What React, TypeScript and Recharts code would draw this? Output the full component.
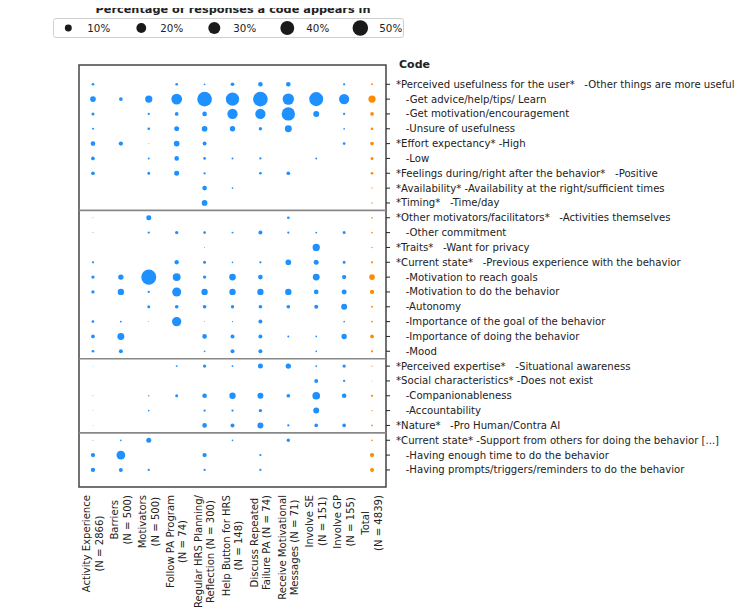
import React from 'react';
import { ScatterChart, Scatter, XAxis, YAxis, ZAxis, ReferenceLine, ReferenceArea } from 'recharts';

const FONT = '"DejaVu Sans", sans-serif';
const BLUE = '#1E90FF';
const ORANGE = '#FF8C00';

// columns (interventions), last one is the total
const columns = [
  'Activity Experience\n(N = 2866)',
  'Barriers\n(N = 500)',
  'Motivators\n(N = 500)',
  'Follow PA Program\n(N = 74)',
  'Regular HRS Planning/\nReflection (N = 300)',
  'Help Button for HRS\n(N = 148)',
  'Discuss Repeated\nFailure PA (N = 74)',
  'Receive Motivational\nMessages (N = 71)',
  'Involve SE\n(N = 151)',
  'Involve GP\n(N = 155)',
  'Total\n(N = 4839)',
];

const codes = [
  '*Perceived usefulness for the user*   -Other things are more useful',
  '   -Get advice/help/tips/ Learn',
  '   -Get motivation/encouragement',
  '   -Unsure of usefulness',
  '*Effort expectancy* -High',
  '   -Low',
  '*Feelings during/right after the behavior*   -Positive',
  '*Availability* -Availability at the right/sufficient times',
  '*Timing*   -Time/day',
  '*Other motivators/facilitators*   -Activities themselves',
  '   -Other commitment',
  '*Traits*   -Want for privacy',
  '*Current state*   -Previous experience with the behavior',
  '   -Motivation to reach goals',
  '   -Motivation to do the behavior',
  '   -Autonomy',
  '   -Importance of the goal of the behavior',
  '   -Importance of doing the behavior',
  '   -Mood',
  '*Perceived expertise*   -Situational awareness',
  '*Social characteristics* -Does not exist',
  '   -Companionableness',
  '   -Accountability',
  '*Nature*   -Pro Human/Contra AI',
  '*Current state* -Support from others for doing the behavior [...]',
  '   -Having enough time to do the behavior',
  '   -Having prompts/triggers/reminders to do the behavior',
];

const groups = ['Behavior', 'User', 'Other Party', 'Environment'];
const groupStart = [0, 9, 19, 24];
const groupEnd = [8, 18, 23, 26];

// % of responses per code (rows) and column
const share = [
  [1.5, 0, 0, 1.5, 0.6, 2.8, 4.5, 4.5, 0, 1.1, 0.8],
  [6.7, 2.8, 11, 24, 45, 37, 45, 27, 41, 22, 11],
  [1.9, 0, 1.1, 2.8, 4.5, 22, 22, 37, 7.5, 1.1, 2.8],
  [0.8, 0, 1.5, 5.2, 6.7, 6, 2.3, 10, 0, 0.6, 1.5],
  [4.5, 3.9, 0.2, 6.7, 3.3, 0, 0, 0, 0, 1.5, 2.8],
  [2.8, 0, 0.8, 4.5, 1.5, 0.8, 1.1, 0, 0.8, 0, 1.9],
  [2.8, 0, 1.9, 5.2, 1.1, 0, 1.5, 2.8, 0, 0, 1.5],
  [0, 0, 0, 0, 4.5, 0.6, 0, 0, 0, 0, 0.4],
  [0, 0, 0, 0, 6.7, 0, 0, 0, 0, 0, 0.4],
  [0.2, 0, 5.2, 0, 0, 0, 0, 1.5, 0, 0, 0.6],
  [0.2, 0, 1.1, 2.3, 1.5, 0.8, 3.3, 1.1, 0.8, 1.9, 0.6],
  [0, 0, 0, 0, 0.2, 0, 0, 0, 11, 0, 0.4],
  [1.1, 0, 0, 3.9, 1.9, 0.6, 1.1, 6.7, 5.2, 1.9, 1.1],
  [2.3, 6, 47, 13, 2.3, 9.3, 4.5, 0, 10, 3.9, 6.7],
  [2.3, 8.4, 1.1, 17, 8.4, 8.4, 8.4, 8.4, 4.5, 5.2, 3.9],
  [0, 0, 1.9, 2.8, 2.8, 2.3, 2.8, 2.8, 3.3, 7.5, 0.8],
  [1.5, 0.8, 0.2, 18, 0.2, 0.4, 3.3, 0, 0, 0.6, 0.8],
  [2.8, 10, 0, 0, 4.5, 3.3, 3.3, 0.8, 0.6, 6, 2.8],
  [1.5, 3.3, 0, 0, 0.6, 3.3, 3.3, 0, 0.6, 0, 1.1],
  [0.1, 0, 0, 0.8, 2.3, 0.8, 5.2, 6, 0.8, 2.3, 0.4],
  [0, 0, 0, 0, 0, 0, 0, 0, 3.3, 1.1, 0.2],
  [0.2, 0, 0.4, 1.9, 4.5, 8.4, 7.5, 2.8, 12.3, 4.5, 1.1],
  [0.1, 0, 0.6, 0, 1.1, 1.1, 2.3, 0, 7.5, 0, 0.4],
  [0.1, 0, 0, 0, 4.5, 3.3, 7.5, 1.1, 2.8, 2.8, 0.6],
  [0.2, 0.6, 5.2, 0, 0, 0.6, 0, 2.3, 0, 0, 0.6],
  [3.9, 16, 0, 0, 3.9, 0, 1.1, 0, 0, 0, 3.9],
  [3.9, 3.3, 1.1, 0, 1.1, 0, 1.1, 0, 0, 0, 3.3],
];

const legendSteps = [10, 20, 30, 40, 50];

const MAX_R = 7.75; // radius of a 50% dot
const radius = (p: number) => MAX_R * Math.sqrt(p / 50);

const totalCol = columns.length - 1;
const points = share.flatMap((row, r) =>
  row.map((p, c) => ({ x: c, y: r, p })).filter(d => d.p > 0)
);
const bluePts = points.filter(d => d.x !== totalCol);
const totalPts = points.filter(d => d.x === totalCol);

const Y_DOMAIN: [number, number] = [-1.3, 27.15];

let measureCtx: CanvasRenderingContext2D | null = null;
const textWidth = (s: string, font: string) => {
  if (!measureCtx) measureCtx = document.createElement('canvas').getContext('2d');
  if (!measureCtx) return s.length * 6;
  measureCtx.font = font;
  return measureCtx.measureText(s).width;
};

const ColumnTick = (props: any) => {
  const { x, y, payload } = props;
  const lines = columns[payload.value].split('\n');
  const fs = 10.1;
  const w = Math.max(...lines.map(l => textWidth(l, `${fs}px "DejaVu Sans"`)));
  const yc = y + w / 2;
  const step = 12.5;
  return (
    <g>
      {lines.map((l, i) => {
        const lx = x + (i - (lines.length - 1) / 2) * step;
        return (
          <text key={i} x={lx} y={yc} transform={`rotate(-90, ${lx}, ${yc})`} textAnchor="middle"
            dominantBaseline="central" fontSize={fs} fontFamily={FONT} fill="#222">{l}</text>
        );
      })}
    </g>
  );
};

const CodeTick = (props: any) => {
  const { x, y, payload } = props;
  return (
    <text x={x} y={y} dominantBaseline="central" fontSize={10.15} fontFamily={FONT} fill="#222"
      style={{ whiteSpace: 'pre' }}>{codes[payload.value]}</text>
  );
};

const GroupTick = (props: any) => {
  const { y, payload } = props;
  const idx = groupStart.findIndex((s, i) => (s + groupEnd[i]) / 2 === payload.value);
  return (
    <text x={3} y={y - 3} dominantBaseline="central" fontSize={11} fontFamily={FONT} fill="#222">
      {groups[idx]}
    </text>
  );
};

const SizeLegend = () => (
  <>
    <div style={{
      position: 'absolute', left: 0, top: 3, width: 466, textAlign: 'center', lineHeight: '14px',
      fontFamily: FONT, fontWeight: 'bold', fontSize: 11.3, color: '#222', whiteSpace: 'nowrap',
    }}>
      Percentage of responses a code appears in
    </div>
    <svg width={420} height={45} style={{ position: 'absolute', left: 0, top: 0 }}>
      <rect x={53.5} y={18.5} width={350} height={19} rx={2.5} fill="#fff" stroke="#d0d0d0" />
      {legendSteps.map((p, i) => (
        <g key={p}>
          <circle cx={68.3 + i * 73} cy={28} r={radius(p)} fill="#1a1a1a" />
          <text x={87.3 + i * 73} y={28} dominantBaseline="central" fontSize={10.3} fontFamily={FONT} fill="#222">
            {p}%
          </text>
        </g>
      ))}
    </svg>
  </>
);

export default function App() {
  const groupTicks = groupStart.map((s, i) => (s + groupEnd[i]) / 2);
  return (
    <div style={{ position: 'relative', width: 745, height: 616, margin: -8, background: '#fff' }}>
      <ScatterChart width={745} height={616} margin={{ top: 65, right: 0, bottom: 0, left: 0 }}>
        <XAxis type="number" dataKey="x" domain={[-0.5, 10.5]} ticks={columns.map((_, i) => i)} interval={0}
          height={129} axisLine={false} tickLine={false} tickSize={0} tickMargin={8} tick={<ColumnTick />} />
        <YAxis yAxisId="grp" orientation="left" type="number" domain={Y_DOMAIN} reversed width={79}
          ticks={groupTicks} interval={0} axisLine={false} tickLine={false} tick={<GroupTick />} />
        <YAxis yAxisId="code" orientation="right" type="number" dataKey="y" domain={Y_DOMAIN} reversed width={359}
          ticks={codes.map((_, i) => i)} interval={0} axisLine={false} tickSize={4} tickMargin={6}
          tickLine={{ stroke: '#222' }} tick={<CodeTick />} />
        <ZAxis type="number" dataKey="p" domain={[0, 50]} range={[0, Math.PI * MAX_R * MAX_R]} />
        <ReferenceArea yAxisId="code" x1={-0.5} x2={10.5} y1={Y_DOMAIN[0]} y2={Y_DOMAIN[1]}
          fill="none" stroke="#444" strokeWidth={1.5} fillOpacity={0} />
        {[8.5, 18.5, 23.5].map(v => (
          <ReferenceLine key={v} yAxisId="code" y={v} stroke="#888" strokeWidth={1.6} />
        ))}
        <Scatter yAxisId="code" data={bluePts} fill={BLUE} isAnimationActive={false} />
        <Scatter yAxisId="code" data={totalPts} fill={ORANGE} isAnimationActive={false} />
      </ScatterChart>
      <div style={{ position: 'absolute', left: 399, top: 58, fontFamily: FONT, fontWeight: 'bold', fontSize: 11, color: '#222' }}>
        Code
      </div>
      <SizeLegend />
    </div>
  );
}
